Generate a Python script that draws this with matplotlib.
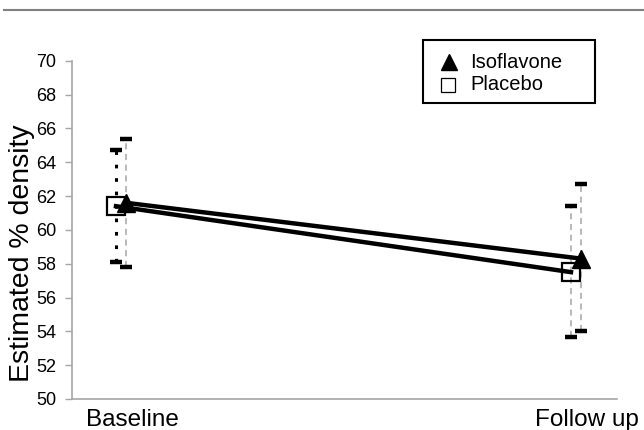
import matplotlib
matplotlib.use("Agg")
import matplotlib.pyplot as plt
from matplotlib.lines import Line2D
from matplotlib.patches import Rectangle

plt.rcParams['font.family'] = ['Liberation Sans', 'DejaVu Sans']

categories = ['Baseline', 'Follow up']
x_cat = [0, 1]

iso_mean = [61.6, 58.3]
iso_lo = [57.8, 54.0]
iso_hi = [65.4, 62.7]

pla_mean = [61.4, 57.5]
pla_lo = [58.1, 53.65]
pla_hi = [64.7, 61.4]

yticks = [50, 52, 54, 56, 58, 60, 62, 64, 66, 68, 70]

OFF = 0.011        # side-by-side offset of the two groups
LABEL_SHIFT = 0.025  # category labels sit a bit right of the point pairs
W, H = 644, 430

def fx(px):
    return px / W

def fy(py):
    return 1 - py / H

fig = plt.figure(figsize=(6.44, 4.30), dpi=100)
ax = fig.add_axes([0.1118, 0.0721, 0.8462, 0.7867])

x_iso = [x + OFF for x in x_cat]
x_pla = [x - OFF for x in x_cat]

grey = '#a6a6a6'

# error bars (vertical lines + thick caps)
for i in range(len(x_cat)):
    if i == 0:
        ax.plot([x_pla[i], x_pla[i]], [pla_lo[i], pla_hi[i]], color='black',
                linewidth=2.2, linestyle=(0, (1.2, 3.2)), zorder=1)
    else:
        ax.plot([x_pla[i], x_pla[i]], [pla_lo[i], pla_hi[i]], color=grey,
                linewidth=1.1, linestyle=(0, (4, 3)), zorder=1)
    ax.plot([x_iso[i], x_iso[i]], [iso_lo[i], iso_hi[i]], color=grey,
            linewidth=1.1, linestyle=(0, (4, 3)), zorder=1)

cap_w = 0.013
for xs, lo, hi in [(x_pla, pla_lo, pla_hi), (x_iso, iso_lo, iso_hi)]:
    for i in range(len(xs)):
        for v in (lo[i], hi[i]):
            ax.plot([xs[i] - cap_w, xs[i] + cap_w], [v, v], color='black',
                    linewidth=3.2, solid_capstyle='butt', zorder=2)

ax.plot(x_iso, iso_mean, color='black', linewidth=3.2, marker='^',
        markersize=12.5, markerfacecolor='black', markeredgecolor='black', zorder=3)
ax.plot(x_pla, pla_mean, color='black', linewidth=3.2, marker='s',
        markersize=12.5, markerfacecolor='none', markeredgecolor='black',
        markeredgewidth=1.6, zorder=3)

ax.set_xlim(-0.1077, 1.090)
ax.set_ylim(50, 70)
ax.set_yticks(yticks)
ax.set_xticks([x + LABEL_SHIFT for x in x_cat])
ax.set_xticklabels(categories, fontsize=17.5)
ax.tick_params(axis='x', length=0, pad=7)
ax.tick_params(axis='y', length=5, width=1, color=grey, labelsize=13, pad=6.5)
for s in ['top', 'right']:
    ax.spines[s].set_visible(False)
for s in ['left', 'bottom']:
    ax.spines[s].set_color(grey)
    ax.spines[s].set_linewidth(1.2)

ax.set_ylabel('Estimated % density', fontsize=20.5)
ax.yaxis.set_label_coords(-0.068, 0.43)

# legend box drawn by hand to match the wide frame
fig.add_artist(Rectangle((fx(423), fy(103)), fx(595) - fx(423), fy(40) - fy(103),
                         transform=fig.transFigure, facecolor='white',
                         edgecolor='black', linewidth=1.5))
fig.add_artist(Line2D([fx(449)], [fy(62)], linestyle='none', marker='^',
                      markersize=11.5, markerfacecolor='black',
                      markeredgecolor='black', transform=fig.transFigure))
fig.add_artist(Line2D([fx(448)], [fy(85)], linestyle='none', marker='s',
                      markersize=10, markerfacecolor='white',
                      markeredgecolor='black', markeredgewidth=0.9,
                      transform=fig.transFigure))
fig.text(fx(470), fy(62), 'Isoflavone', fontsize=14.5, va='center', ha='left')
fig.text(fx(470), fy(85), 'Placebo', fontsize=14.5, va='center', ha='left')

# horizontal rule at the top of the panel
fig.add_artist(Line2D([0.006, 1.0], [0.977, 0.977], color='#808080',
                      linewidth=1.5, transform=fig.transFigure))

fig.savefig('out.png', dpi=100)
